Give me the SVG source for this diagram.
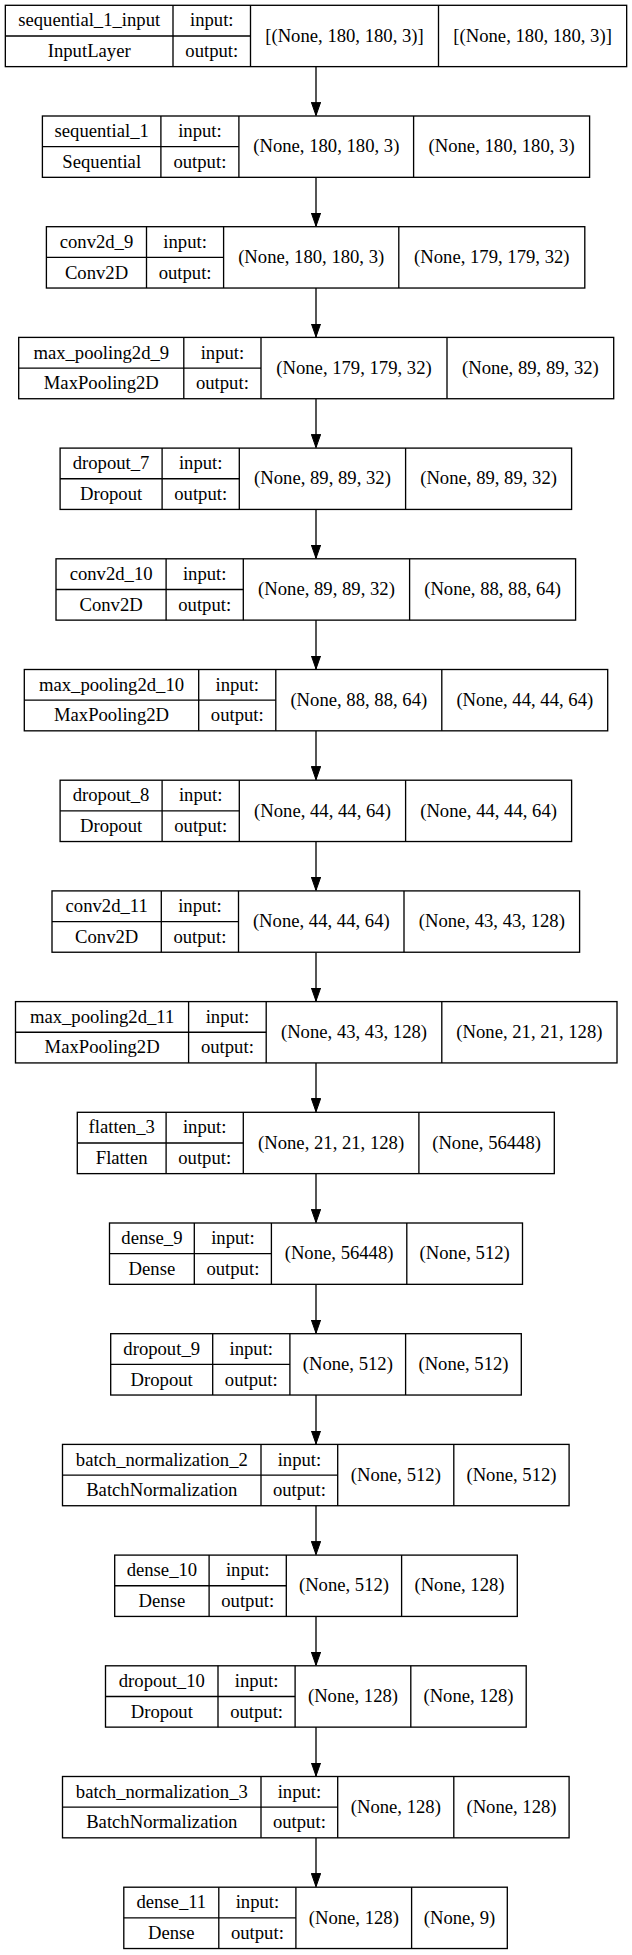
<svg xmlns="http://www.w3.org/2000/svg" width="632" height="1955" viewBox="0 0 632 1955">
<style>
.b{fill:#fff;stroke:#000;stroke-width:1.33}
.d{stroke:#000;stroke-width:1.33}
.e{stroke:#000;stroke-width:1.33;fill:none}
text{font-family:"Liberation Serif","Times New Roman",serif;font-size:18.67px;text-anchor:middle;fill:#000}
</style>
<defs>
<marker id="ah" markerUnits="userSpaceOnUse" markerWidth="14" markerHeight="10" refX="13.33" refY="4.67" orient="auto">
<path d="M0,0 L13.33,4.67 L0,9.33 z" fill="#000" stroke="#000" stroke-width="1"/>
</marker>
</defs>
<rect width="632" height="1955" fill="#fff"/>
<g id="connectors">
<line class="e" x1="316" y1="66.6" x2="316" y2="115.5" marker-end="url(#ah)"/>
<line class="e" x1="316" y1="177.3" x2="316" y2="226.2" marker-end="url(#ah)"/>
<line class="e" x1="316" y1="288.0" x2="316" y2="336.9" marker-end="url(#ah)"/>
<line class="e" x1="316" y1="398.7" x2="316" y2="447.6" marker-end="url(#ah)"/>
<line class="e" x1="316" y1="509.4" x2="316" y2="558.3" marker-end="url(#ah)"/>
<line class="e" x1="316" y1="620.1" x2="316" y2="669.0" marker-end="url(#ah)"/>
<line class="e" x1="316" y1="730.8" x2="316" y2="779.7" marker-end="url(#ah)"/>
<line class="e" x1="316" y1="841.5" x2="316" y2="890.4" marker-end="url(#ah)"/>
<line class="e" x1="316" y1="952.2" x2="316" y2="1001.1" marker-end="url(#ah)"/>
<line class="e" x1="316" y1="1062.9" x2="316" y2="1111.8" marker-end="url(#ah)"/>
<line class="e" x1="316" y1="1173.6" x2="316" y2="1222.5" marker-end="url(#ah)"/>
<line class="e" x1="316" y1="1284.3" x2="316" y2="1333.2" marker-end="url(#ah)"/>
<line class="e" x1="316" y1="1395.0" x2="316" y2="1443.9" marker-end="url(#ah)"/>
<line class="e" x1="316" y1="1505.7" x2="316" y2="1554.6" marker-end="url(#ah)"/>
<line class="e" x1="316" y1="1616.4" x2="316" y2="1665.3" marker-end="url(#ah)"/>
<line class="e" x1="316" y1="1727.1" x2="316" y2="1776.0" marker-end="url(#ah)"/>
<line class="e" x1="316" y1="1837.8" x2="316" y2="1886.7" marker-end="url(#ah)"/>
</g>

<g id="sequential_1_input" transform="translate(0,5.3)">
<rect class="b" x="5.33" y="0" width="621.34" height="61.33"/>
<line class="d" x1="5.33" y1="30.67" x2="250.5" y2="30.67"/>
<line class="d" x1="173.0" y1="0" x2="173.0" y2="61.33"/>
<line class="d" x1="250.5" y1="0" x2="250.5" y2="61.33"/>
<line class="d" x1="438.5" y1="0" x2="438.5" y2="61.33"/>
<text x="89.2" y="21.2">sequential_1_input</text>
<text x="89.2" y="51.9">InputLayer</text>
<text x="211.8" y="21.2">input:</text>
<text x="211.8" y="51.9">output:</text>
<text x="344.5" y="36.4">[(None, 180, 180, 3)]</text>
<text x="532.6" y="36.4">[(None, 180, 180, 3)]</text>
</g>

<g id="sequential_1" transform="translate(0,116.0)">
<rect class="b" x="42.4" y="0" width="547.2" height="61.33"/>
<line class="d" x1="42.4" y1="30.67" x2="238.9" y2="30.67"/>
<line class="d" x1="160.9" y1="0" x2="160.9" y2="61.33"/>
<line class="d" x1="238.9" y1="0" x2="238.9" y2="61.33"/>
<line class="d" x1="413.6" y1="0" x2="413.6" y2="61.33"/>
<text x="101.7" y="21.2">sequential_1</text>
<text x="101.7" y="51.9">Sequential</text>
<text x="199.9" y="21.2">input:</text>
<text x="199.9" y="51.9">output:</text>
<text x="326.3" y="36.4">(None, 180, 180, 3)</text>
<text x="501.6" y="36.4">(None, 180, 180, 3)</text>
</g>

<g id="conv2d_9" transform="translate(0,226.7)">
<rect class="b" x="46.4" y="0" width="538.4" height="61.33"/>
<line class="d" x1="46.4" y1="30.67" x2="223.6" y2="30.67"/>
<line class="d" x1="146.5" y1="0" x2="146.5" y2="61.33"/>
<line class="d" x1="223.6" y1="0" x2="223.6" y2="61.33"/>
<line class="d" x1="398.8" y1="0" x2="398.8" y2="61.33"/>
<text x="96.5" y="21.2">conv2d_9</text>
<text x="96.5" y="51.9">Conv2D</text>
<text x="185.1" y="21.2">input:</text>
<text x="185.1" y="51.9">output:</text>
<text x="311.2" y="36.4">(None, 180, 180, 3)</text>
<text x="491.8" y="36.4">(None, 179, 179, 32)</text>
</g>

<g id="max_pooling2d_9" transform="translate(0,337.4)">
<rect class="b" x="18.7" y="0" width="595.0" height="61.33"/>
<line class="d" x1="18.7" y1="30.67" x2="261.0" y2="30.67"/>
<line class="d" x1="183.8" y1="0" x2="183.8" y2="61.33"/>
<line class="d" x1="261.0" y1="0" x2="261.0" y2="61.33"/>
<line class="d" x1="447.0" y1="0" x2="447.0" y2="61.33"/>
<text x="101.3" y="21.2">max_pooling2d_9</text>
<text x="101.3" y="51.9">MaxPooling2D</text>
<text x="222.4" y="21.2">input:</text>
<text x="222.4" y="51.9">output:</text>
<text x="354.0" y="36.4">(None, 179, 179, 32)</text>
<text x="530.4" y="36.4">(None, 89, 89, 32)</text>
</g>

<g id="dropout_7" transform="translate(0,448.1)">
<rect class="b" x="60.1" y="0" width="511.5" height="61.33"/>
<line class="d" x1="60.1" y1="30.67" x2="239.3" y2="30.67"/>
<line class="d" x1="162.1" y1="0" x2="162.1" y2="61.33"/>
<line class="d" x1="239.3" y1="0" x2="239.3" y2="61.33"/>
<line class="d" x1="405.6" y1="0" x2="405.6" y2="61.33"/>
<text x="111.1" y="21.2">dropout_7</text>
<text x="111.1" y="51.9">Dropout</text>
<text x="200.7" y="21.2">input:</text>
<text x="200.7" y="51.9">output:</text>
<text x="322.5" y="36.4">(None, 89, 89, 32)</text>
<text x="488.6" y="36.4">(None, 89, 89, 32)</text>
</g>

<g id="conv2d_10" transform="translate(0,558.8)">
<rect class="b" x="56.0" y="0" width="519.6" height="61.33"/>
<line class="d" x1="56.0" y1="30.67" x2="243.3" y2="30.67"/>
<line class="d" x1="166.1" y1="0" x2="166.1" y2="61.33"/>
<line class="d" x1="243.3" y1="0" x2="243.3" y2="61.33"/>
<line class="d" x1="409.6" y1="0" x2="409.6" y2="61.33"/>
<text x="111.1" y="21.2">conv2d_10</text>
<text x="111.1" y="51.9">Conv2D</text>
<text x="204.7" y="21.2">input:</text>
<text x="204.7" y="51.9">output:</text>
<text x="326.5" y="36.4">(None, 89, 89, 32)</text>
<text x="492.6" y="36.4">(None, 88, 88, 64)</text>
</g>

<g id="max_pooling2d_10" transform="translate(0,669.5)">
<rect class="b" x="24.3" y="0" width="583.4" height="61.33"/>
<line class="d" x1="24.3" y1="30.67" x2="275.8" y2="30.67"/>
<line class="d" x1="198.7" y1="0" x2="198.7" y2="61.33"/>
<line class="d" x1="275.8" y1="0" x2="275.8" y2="61.33"/>
<line class="d" x1="441.8" y1="0" x2="441.8" y2="61.33"/>
<text x="111.5" y="21.2">max_pooling2d_10</text>
<text x="111.5" y="51.9">MaxPooling2D</text>
<text x="237.3" y="21.2">input:</text>
<text x="237.3" y="51.9">output:</text>
<text x="358.8" y="36.4">(None, 88, 88, 64)</text>
<text x="524.8" y="36.4">(None, 44, 44, 64)</text>
</g>

<g id="dropout_8" transform="translate(0,780.2)">
<rect class="b" x="60.1" y="0" width="511.5" height="61.33"/>
<line class="d" x1="60.1" y1="30.67" x2="239.3" y2="30.67"/>
<line class="d" x1="162.1" y1="0" x2="162.1" y2="61.33"/>
<line class="d" x1="239.3" y1="0" x2="239.3" y2="61.33"/>
<line class="d" x1="405.6" y1="0" x2="405.6" y2="61.33"/>
<text x="111.1" y="21.2">dropout_8</text>
<text x="111.1" y="51.9">Dropout</text>
<text x="200.7" y="21.2">input:</text>
<text x="200.7" y="51.9">output:</text>
<text x="322.5" y="36.4">(None, 44, 44, 64)</text>
<text x="488.6" y="36.4">(None, 44, 44, 64)</text>
</g>

<g id="conv2d_11" transform="translate(0,890.9)">
<rect class="b" x="52.0" y="0" width="527.6" height="61.33"/>
<line class="d" x1="52.0" y1="30.67" x2="238.5" y2="30.67"/>
<line class="d" x1="161.3" y1="0" x2="161.3" y2="61.33"/>
<line class="d" x1="238.5" y1="0" x2="238.5" y2="61.33"/>
<line class="d" x1="404.0" y1="0" x2="404.0" y2="61.33"/>
<text x="106.7" y="21.2">conv2d_11</text>
<text x="106.7" y="51.9">Conv2D</text>
<text x="199.9" y="21.2">input:</text>
<text x="199.9" y="51.9">output:</text>
<text x="321.3" y="36.4">(None, 44, 44, 64)</text>
<text x="491.8" y="36.4">(None, 43, 43, 128)</text>
</g>

<g id="max_pooling2d_11" transform="translate(0,1001.6)">
<rect class="b" x="15.5" y="0" width="601.5" height="61.33"/>
<line class="d" x1="15.5" y1="30.67" x2="266.2" y2="30.67"/>
<line class="d" x1="188.6" y1="0" x2="188.6" y2="61.33"/>
<line class="d" x1="266.2" y1="0" x2="266.2" y2="61.33"/>
<line class="d" x1="441.8" y1="0" x2="441.8" y2="61.33"/>
<text x="102.1" y="21.2">max_pooling2d_11</text>
<text x="102.1" y="51.9">MaxPooling2D</text>
<text x="227.4" y="21.2">input:</text>
<text x="227.4" y="51.9">output:</text>
<text x="354.0" y="36.4">(None, 43, 43, 128)</text>
<text x="529.4" y="36.4">(None, 21, 21, 128)</text>
</g>

<g id="flatten_3" transform="translate(0,1112.3)">
<rect class="b" x="77.3" y="0" width="477.0" height="61.33"/>
<line class="d" x1="77.3" y1="30.67" x2="243.3" y2="30.67"/>
<line class="d" x1="166.1" y1="0" x2="166.1" y2="61.33"/>
<line class="d" x1="243.3" y1="0" x2="243.3" y2="61.33"/>
<line class="d" x1="418.9" y1="0" x2="418.9" y2="61.33"/>
<text x="121.7" y="21.2">flatten_3</text>
<text x="121.7" y="51.9">Flatten</text>
<text x="204.7" y="21.2">input:</text>
<text x="204.7" y="51.9">output:</text>
<text x="331.1" y="36.4">(None, 21, 21, 128)</text>
<text x="486.6" y="36.4">(None, 56448)</text>
</g>

<g id="dense_9" transform="translate(0,1223.0)">
<rect class="b" x="109.5" y="0" width="413.0" height="61.33"/>
<line class="d" x1="109.5" y1="30.67" x2="271.4" y2="30.67"/>
<line class="d" x1="194.3" y1="0" x2="194.3" y2="61.33"/>
<line class="d" x1="271.4" y1="0" x2="271.4" y2="61.33"/>
<line class="d" x1="406.8" y1="0" x2="406.8" y2="61.33"/>
<text x="151.9" y="21.2">dense_9</text>
<text x="151.9" y="51.9">Dense</text>
<text x="232.9" y="21.2">input:</text>
<text x="232.9" y="51.9">output:</text>
<text x="339.1" y="36.4">(None, 56448)</text>
<text x="464.7" y="36.4">(None, 512)</text>
</g>

<g id="dropout_9" transform="translate(0,1333.7)">
<rect class="b" x="110.7" y="0" width="410.6" height="61.33"/>
<line class="d" x1="110.7" y1="30.67" x2="289.9" y2="30.67"/>
<line class="d" x1="212.7" y1="0" x2="212.7" y2="61.33"/>
<line class="d" x1="289.9" y1="0" x2="289.9" y2="61.33"/>
<line class="d" x1="405.6" y1="0" x2="405.6" y2="61.33"/>
<text x="161.7" y="21.2">dropout_9</text>
<text x="161.7" y="51.9">Dropout</text>
<text x="251.3" y="21.2">input:</text>
<text x="251.3" y="51.9">output:</text>
<text x="347.8" y="36.4">(None, 512)</text>
<text x="463.5" y="36.4">(None, 512)</text>
</g>

<g id="batch_normalization_2" transform="translate(0,1444.4)">
<rect class="b" x="62.5" y="0" width="506.6" height="61.33"/>
<line class="d" x1="62.5" y1="30.67" x2="337.7" y2="30.67"/>
<line class="d" x1="261.0" y1="0" x2="261.0" y2="61.33"/>
<line class="d" x1="337.7" y1="0" x2="337.7" y2="61.33"/>
<line class="d" x1="453.8" y1="0" x2="453.8" y2="61.33"/>
<text x="161.8" y="21.2">batch_normalization_2</text>
<text x="161.8" y="51.9">BatchNormalization</text>
<text x="299.4" y="21.2">input:</text>
<text x="299.4" y="51.9">output:</text>
<text x="395.8" y="36.4">(None, 512)</text>
<text x="511.5" y="36.4">(None, 512)</text>
</g>

<g id="dense_10" transform="translate(0,1555.1)">
<rect class="b" x="114.7" y="0" width="402.6" height="61.33"/>
<line class="d" x1="114.7" y1="30.67" x2="286.3" y2="30.67"/>
<line class="d" x1="209.1" y1="0" x2="209.1" y2="61.33"/>
<line class="d" x1="286.3" y1="0" x2="286.3" y2="61.33"/>
<line class="d" x1="401.6" y1="0" x2="401.6" y2="61.33"/>
<text x="161.9" y="21.2">dense_10</text>
<text x="161.9" y="51.9">Dense</text>
<text x="247.7" y="21.2">input:</text>
<text x="247.7" y="51.9">output:</text>
<text x="344.0" y="36.4">(None, 512)</text>
<text x="459.5" y="36.4">(None, 128)</text>
</g>

<g id="dropout_10" transform="translate(0,1665.8)">
<rect class="b" x="105.5" y="0" width="420.7" height="61.33"/>
<line class="d" x1="105.5" y1="30.67" x2="295.1" y2="30.67"/>
<line class="d" x1="218.0" y1="0" x2="218.0" y2="61.33"/>
<line class="d" x1="295.1" y1="0" x2="295.1" y2="61.33"/>
<line class="d" x1="410.8" y1="0" x2="410.8" y2="61.33"/>
<text x="161.8" y="21.2">dropout_10</text>
<text x="161.8" y="51.9">Dropout</text>
<text x="256.6" y="21.2">input:</text>
<text x="256.6" y="51.9">output:</text>
<text x="353.0" y="36.4">(None, 128)</text>
<text x="468.5" y="36.4">(None, 128)</text>
</g>

<g id="batch_normalization_3" transform="translate(0,1776.5)">
<rect class="b" x="62.5" y="0" width="506.6" height="61.33"/>
<line class="d" x1="62.5" y1="30.67" x2="337.7" y2="30.67"/>
<line class="d" x1="261.0" y1="0" x2="261.0" y2="61.33"/>
<line class="d" x1="337.7" y1="0" x2="337.7" y2="61.33"/>
<line class="d" x1="453.8" y1="0" x2="453.8" y2="61.33"/>
<text x="161.8" y="21.2">batch_normalization_3</text>
<text x="161.8" y="51.9">BatchNormalization</text>
<text x="299.4" y="21.2">input:</text>
<text x="299.4" y="51.9">output:</text>
<text x="395.8" y="36.4">(None, 128)</text>
<text x="511.5" y="36.4">(None, 128)</text>
</g>

<g id="dense_11" transform="translate(0,1887.2)">
<rect class="b" x="123.8" y="0" width="383.5" height="61.33"/>
<line class="d" x1="123.8" y1="30.67" x2="295.9" y2="30.67"/>
<line class="d" x1="218.8" y1="0" x2="218.8" y2="61.33"/>
<line class="d" x1="295.9" y1="0" x2="295.9" y2="61.33"/>
<line class="d" x1="411.6" y1="0" x2="411.6" y2="61.33"/>
<text x="171.3" y="21.2">dense_11</text>
<text x="171.3" y="51.9">Dense</text>
<text x="257.4" y="21.2">input:</text>
<text x="257.4" y="51.9">output:</text>
<text x="353.8" y="36.4">(None, 128)</text>
<text x="459.5" y="36.4">(None, 9)</text>
</g>
</svg>
